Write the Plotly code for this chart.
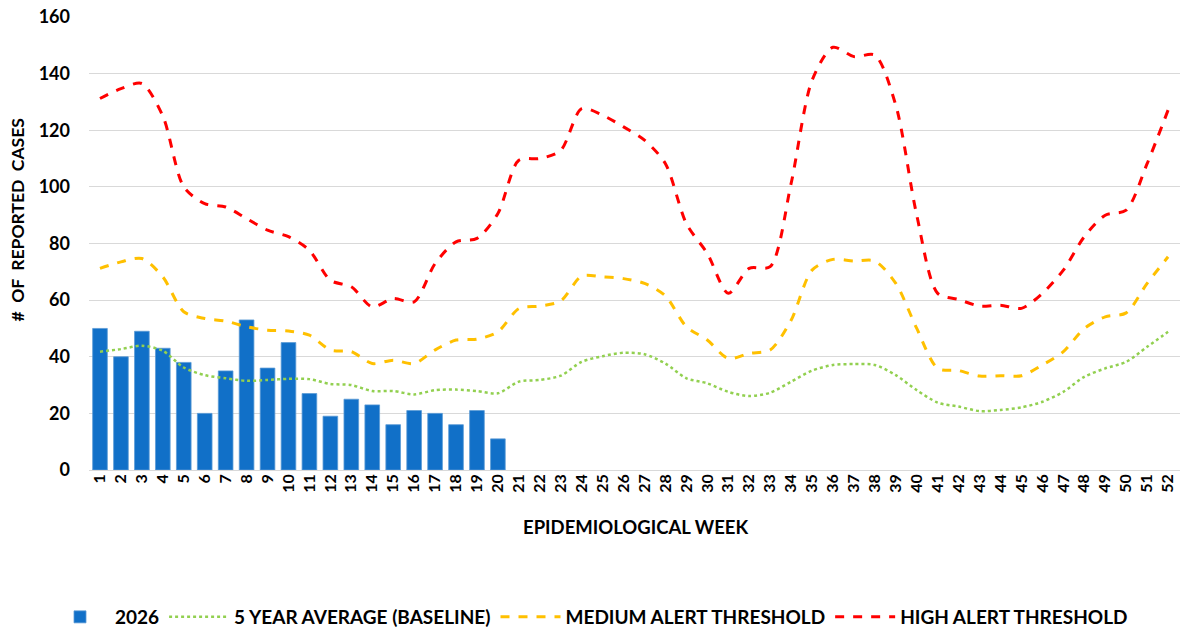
import plotly.graph_objects as go

weeks = list(range(1, 53))
week_labels = [str(w) for w in weeks]

cases_2026 = [50, 40, 49, 43, 38, 20, 35, 53, 36, 45, 27, 19, 25, 23, 16, 21, 20, 16, 21, 11]

baseline = [41.8, 42.7, 43.9, 42.1, 36.2, 33.5, 32.4, 31.5, 31.8, 32.2,
            32.1, 30.4, 30.0, 27.9, 27.9, 26.7, 28.2, 28.4, 27.9, 27.1,
            31.2, 31.8, 33.3, 38.2, 40.2, 41.4, 40.9, 37.6, 32.4, 30.6,
            27.6, 26.1, 27.3, 31.2, 35.1, 37.1, 37.4, 37.1, 33.5, 28.2,
            23.8, 22.4, 20.8, 21.2, 22.1, 24.1, 27.6, 32.9, 35.9, 38.2,
            43.5, 48.8]

medium = [71.2, 73.5, 74.7, 68.2, 55.9, 53.5, 52.6, 50.6, 49.4, 49.1,
          47.6, 42.4, 41.8, 37.6, 38.8, 37.6, 42.4, 45.9, 46.2, 48.8,
          57.0, 57.9, 59.7, 68.5, 68.2, 67.6, 65.9, 61.5, 50.6, 45.9,
          39.4, 41.2, 42.4, 52.9, 70.6, 74.4, 73.8, 73.8, 65.9, 50.0,
          35.9, 35.1, 33.2, 33.3, 33.3, 37.1, 41.8, 50.0, 54.1, 55.5,
          65.9, 75.3]

high = [131.2, 134.7, 136.5, 125.0, 100.0, 94.1, 92.9, 88.8, 84.7, 82.4,
        77.6, 67.0, 64.7, 57.6, 60.6, 59.4, 72.9, 80.6, 81.8, 90.6,
        109.4, 110.0, 112.9, 127.6, 125.3, 121.2, 116.5, 108.2, 87.0, 76.5,
        62.4, 71.2, 71.8, 101.2, 137.6, 149.3, 146.0, 146.5, 128.8, 90.0,
        62.4, 60.2, 57.9, 58.2, 57.1, 62.4, 70.6, 82.4, 90.0, 91.8,
        108.2, 127.1]

FONT = "Lato"
W, H = 1180, 629
L, R, T, B = 89, 0, 17, 159
plot_w = W - L - R
plot_h = H - T - B

fig = go.Figure()
fig.add_trace(go.Bar(
    x=weeks[:len(cases_2026)], y=cases_2026, name="2026",
    width=0.7,
    marker=dict(color="#1170C8", line=dict(color="#5B9BD5", width=0.8)),
))
fig.add_trace(go.Scatter(
    x=weeks, y=baseline, name="5 YEAR AVERAGE (BASELINE)", mode="lines",
    line=dict(color="#92D050", width=2.5, dash="dot", shape="spline", smoothing=0.8),
))
fig.add_trace(go.Scatter(
    x=weeks, y=medium, name="MEDIUM ALERT THRESHOLD", mode="lines",
    line=dict(color="#FFC000", width=3, dash="dash", shape="spline", smoothing=0.8),
))
fig.add_trace(go.Scatter(
    x=weeks, y=high, name="HIGH ALERT THRESHOLD", mode="lines",
    line=dict(color="#FF0000", width=3, dash="dash", shape="spline", smoothing=0.8),
))

bold = dict(family=FONT, color="black", weight="bold")

fig.update_layout(
    width=W, height=H,
    margin=dict(l=L, r=R, t=T, b=B, autoexpand=False),
    paper_bgcolor="white", plot_bgcolor="white",
    font=dict(family=FONT, color="black"),
    showlegend=True,
    legend=dict(orientation="h", x=(589 - L) / plot_w, xanchor="center",
                y=-(617 - (H - B)) / plot_h, yanchor="middle",
                font=dict(size=19, **bold), itemwidth=60, tracegroupgap=0),
    annotations=[
        dict(text="#  OF  REPORTED  CASES", textangle=-90, showarrow=False,
             xref="paper", yref="paper",
             x=(17.5 - L) / plot_w, y=((H - B) - 220) / plot_h,
             xanchor="center", yanchor="middle", font=dict(size=17.5, **bold)),
        dict(text="EPIDEMIOLOGICAL WEEK", showarrow=False,
             xref="paper", yref="paper",
             x=(635 - L) / plot_w, y=((H - B) - 527) / plot_h,
             xanchor="center", yanchor="middle", font=dict(size=18.5, **bold)),
    ],
)
fig.update_xaxes(
    range=[0.475, 52.57], tickmode="array", tickvals=weeks, ticktext=week_labels,
    tickangle=-90, showgrid=False, showline=False, ticks="", automargin=False,
    ticklabeloverflow="allow",
    tickfont=dict(size=16, **bold),
)
fig.update_yaxes(
    range=[0, 160], dtick=20, showgrid=True, gridcolor="#D9D9D9", gridwidth=1.3,
    zeroline=True, zerolinecolor="#D9D9D9", zerolinewidth=1.3, showline=False,
    ticklabelstandoff=18, automargin=False,
    tickfont=dict(size=18, **bold),
)

fig.write_html(
    "out.html",
    config={"displayModeBar": False},
    post_script="document.body.style.margin='0';document.body.style.overflow='hidden';",
)
